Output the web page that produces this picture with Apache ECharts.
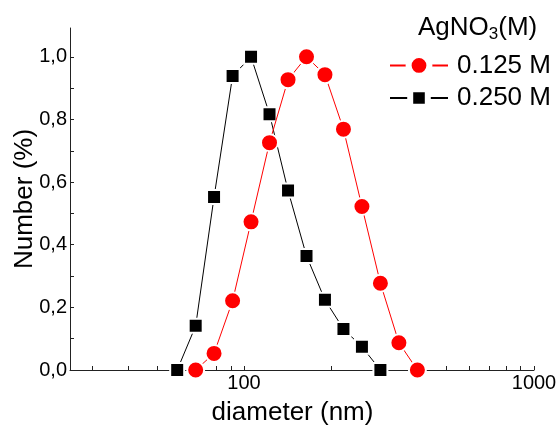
<!DOCTYPE html>
<html>
<head>
<meta charset="utf-8">
<script src="https://cdn.jsdelivr.net/npm/echarts@6/dist/echarts.min.js"></script>
<style>
  html, body { margin: 0; padding: 0; background: #fff; }
  #chart { width: 558px; height: 425px; }
</style>
</head>
<body>
<div id="chart"></div>
<script>
// Particle size distribution (number %) for two AgNO3 concentrations

// 0.125 M series
const diam125 = [68.1, 78.8, 91.3, 105.7, 122.4, 141.8, 164.2, 190.1, 220.2, 255.0, 295.3, 342.0, 396.1];
const num125  = [0.0, 0.053, 0.221, 0.473, 0.726, 0.927, 1.0, 0.943, 0.769, 0.522, 0.277, 0.087, 0.0];

// 0.250 M series
const diam250 = [58.8, 68.1, 78.8, 91.3, 105.7, 122.4, 141.8, 164.2, 190.1, 220.2, 255.0, 295.3];
const num250  = [0.0, 0.141, 0.552, 0.939, 1.0, 0.817, 0.573, 0.364, 0.224, 0.131, 0.074, 0.0];

const xTickValues = [30, 40, 50, 60, 70, 80, 90, 100, 200, 300, 400, 500, 600, 700, 800, 900, 1000];
const xLabelValues = [100, 1000];
const yTickValues = [0, 0.1, 0.2, 0.3, 0.4, 0.5, 0.6, 0.7, 0.8, 0.9, 1.0];
const yLabelValues = [0, 0.2, 0.4, 0.6, 0.8, 1.0];

const seriesNames = ['0.125 M', '0.250 M'];
const legendTitle = 'AgNO{sub|3}(M)';

const FONT = 'Liberation Sans, Arial, sans-serif';
const AXIS_COLOR = '#222';

const pairs = (xs, ys) => xs.map((x, i) => [x, ys[i]]);

const chart = echarts.init(document.getElementById('chart'), null, { renderer: 'canvas' });

chart.setOption({
  animation: false,
  backgroundColor: '#fff',
  textStyle: { fontFamily: FONT },
  grid: { left: 70, right: 24, top: 28, bottom: 55, containLabel: false, outerBoundsMode: 'none' },
  title: {
    text: legendTitle,
    left: 413,
    top: 7,
    textStyle: {
      fontFamily: FONT, fontSize: 26, fontWeight: 'normal', color: '#000',
      rich: {
        sub: { fontFamily: FONT, fontSize: 17, color: '#000', padding: [14, 0, 0, 0] }
      }
    }
  },
  legend: [
    {
      data: [seriesNames[0]],
      orient: 'vertical',
      left: 384,
      top: 47,
      itemWidth: 58,
      itemHeight: 26,
      itemGap: 0,
      textStyle: { fontFamily: FONT, fontSize: 26, color: '#000', padding: [0, 0, 0, 4] },
      itemStyle: { borderColor: '#fff', borderWidth: 6 }
    },
    {
      data: [seriesNames[1]],
      orient: 'vertical',
      left: 384,
      top: 80,
      itemWidth: 58,
      itemHeight: 22,
      itemGap: 0,
      textStyle: { fontFamily: FONT, fontSize: 26, color: '#000', padding: [0, 0, 0, 4] },
      itemStyle: { borderColor: '#fff', borderWidth: 6 }
    }
  ],
  xAxis: {
    type: 'log',
    logBase: 10,
    min: 25.1,
    max: 1000,
    name: 'diameter (nm)',
    nameLocation: 'middle',
    nameGap: 30,
    nameMoveOverlap: false,
    nameTextStyle: { fontFamily: FONT, fontSize: 26, color: '#000', padding: [0, 19, 0, 0] },
    axisLine: { show: true, onZero: false, lineStyle: { color: AXIS_COLOR, width: 1 } },
    axisTick: { show: true, inside: true, length: 4, customValues: xTickValues, lineStyle: { color: AXIS_COLOR } },
    axisLabel: {
      customValues: xLabelValues,
      fontFamily: FONT, fontSize: 20, color: '#000', margin: 3,
      formatter: v => String(Math.round(v))
    },
    splitLine: { show: false },
    minorTick: { show: false }
  },
  yAxis: {
    type: 'value',
    min: 0,
    max: 1.092,
    name: 'Number (%)',
    nameLocation: 'middle',
    nameGap: 32,
    nameMoveOverlap: false,
    nameTextStyle: { fontFamily: FONT, fontSize: 26, color: '#000' },
    axisLine: { show: true, lineStyle: { color: AXIS_COLOR, width: 1 } },
    axisTick: { show: true, inside: true, length: 4, customValues: yTickValues, lineStyle: { color: AXIS_COLOR } },
    axisLabel: {
      customValues: yLabelValues,
      fontFamily: FONT, fontSize: 20, color: '#000', margin: 3,
      formatter: v => v.toFixed(1).replace('.', ',')
    },
    splitLine: { show: false }
  },
  series: [
    {
      name: seriesNames[1],
      type: 'line',
      data: pairs(diam250, num250),
      symbol: 'rect',
      symbolSize: 14,
      lineStyle: { color: '#000', width: 1 },
      itemStyle: { color: '#000', borderColor: '#fff', borderWidth: 2 },
      z: 2
    },
    {
      name: seriesNames[0],
      type: 'line',
      data: pairs(diam125, num125),
      symbol: 'circle',
      symbolSize: 17,
      lineStyle: { color: '#ff0000', width: 1 },
      itemStyle: { color: '#ff0000', borderColor: '#fff', borderWidth: 2 },
      z: 3
    }
  ]
});
</script>
</body>
</html>
